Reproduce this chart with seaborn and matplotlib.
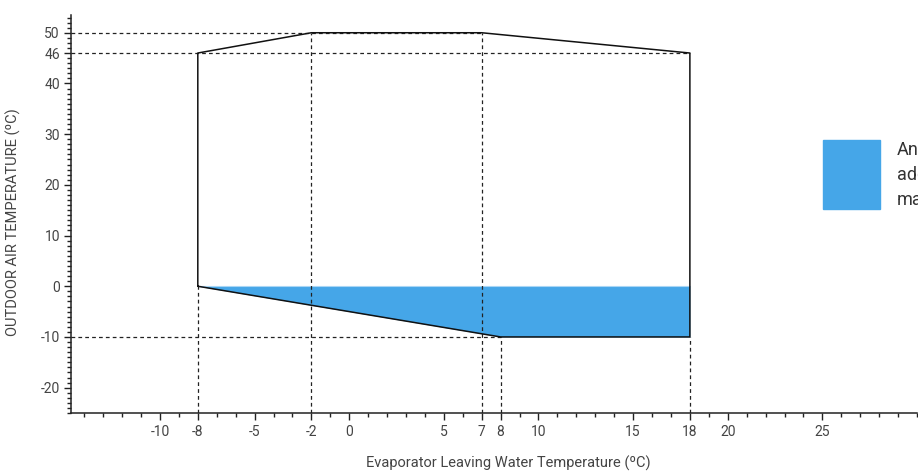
import matplotlib
matplotlib.use("Agg")
import matplotlib.pyplot as plt
import matplotlib.patches as mpatches
from matplotlib.ticker import MultipleLocator, FixedLocator
import seaborn as sns
import pandas as pd

# ---- data ----
boundary_x = [-8, -8, -2, 7, 18, 18, 8, -8]
boundary_y = [0, 46, 50, 50, 46, -10, -10, 0]

fill_x = [-8, 8, 18]
fill_top = [0, 0, 0]
fill_bottom = [0, -10, -10]

h_levels = [50, 46, -10]
h_ends = [7, 18, 8]
v_positions = [-8, -2, 7, 8, 18]
v_tops = [0, 50, 50, -10, -10]

x_ticks = [-10, -8, -5, -2, 0, 5, 7, 8, 10, 15, 18, 20, 25]
y_ticks = [-20, -10, 0, 10, 20, 30, 40, 46, 50]

x_label = "Evaporator Leaving Water Temperature (ºC)"
y_label = "OUTDOOR AIR TEMPERATURE (ºC)"
legend_label = "Antifreeze\nadditive\nmandatory"

x_min, x_max = -14.7, 30
y_min, y_max = -25, 53.5

blue = "#45A6E8"
text_col = "#444444"

sns.set_theme(style="white")
plt.rcParams["font.family"] = ["Roboto", "DejaVu Sans"]
plt.rcParams["axes.unicode_minus"] = False

fig = plt.figure(figsize=(9.18, 4.72), dpi=100)
ax = fig.add_axes([71 / 918, (472 - 413) / 472, (917 - 71) / 918, (413 - 15) / 472])

# blue area
ax.fill_between(fill_x, fill_bottom, fill_top, color=blue, linewidth=0, zorder=1)
ax.plot([fill_x[0], fill_x[-1]], [0, 0], color="#a9d6f5", lw=0.8, zorder=1.5)

# dashed reference lines
ax.hlines(h_levels, [x_min] * len(h_levels), h_ends, colors="#222222",
          linestyles=(0, (3, 2.5)), linewidth=0.9, zorder=2)
ax.vlines(v_positions, [y_min] * len(v_positions), v_tops, colors="#222222",
          linestyles=(0, (3, 2.5)), linewidth=0.9, zorder=2)

# envelope outline
df = pd.DataFrame({"x": boundary_x, "y": boundary_y})
sns.lineplot(data=df, x="x", y="y", sort=False, color="#111111", linewidth=1.1,
             ax=ax, zorder=3, estimator=None)

ax.set_xlim(x_min, x_max)
ax.set_ylim(y_min, y_max)

ax.xaxis.set_major_locator(FixedLocator(x_ticks))
ax.yaxis.set_major_locator(FixedLocator(y_ticks))
ax.xaxis.set_minor_locator(MultipleLocator(1))
ax.yaxis.set_minor_locator(MultipleLocator(1))

ax.tick_params(axis="both", which="major", length=5, width=1, color="#222222",
               labelsize=10, labelcolor=text_col, direction="out",
               bottom=True, left=True)
ax.tick_params(axis="both", which="minor", length=3, width=1, color="#222222",
               direction="out", bottom=True, left=True)
ax.tick_params(axis="x", which="major", pad=4)
ax.tick_params(axis="y", which="major", pad=3)

for s in ["top", "right"]:
    ax.spines[s].set_visible(False)
for s in ["left", "bottom"]:
    ax.spines[s].set_color("#222222")
    ax.spines[s].set_linewidth(1.1)

ax.set_xlabel(x_label, fontsize=10.5, color=text_col, va="center")
ax.set_ylabel(y_label, fontsize=10.5, color=text_col, va="center")
ax.xaxis.set_label_coords((508 - 71) / (917 - 71), -(463 - 413) / (413 - 15))
ax.yaxis.set_label_coords(-(71 - 13) / (917 - 71), (413 - 222) / (413 - 15))

# legend (outside drawn area, clipped by figure edge as in the reference)
fig.patches.append(mpatches.Rectangle((823 / 918, (472 - 209) / 472), 57 / 918, 69 / 472,
                                      transform=fig.transFigure, color=blue, zorder=5))
fig.text(897 / 918, (472 - 175) / 472, legend_label, fontsize=13, color="#333333",
         va="center", ha="left", linespacing=1.5)

fig.savefig("out.png", dpi=100)
